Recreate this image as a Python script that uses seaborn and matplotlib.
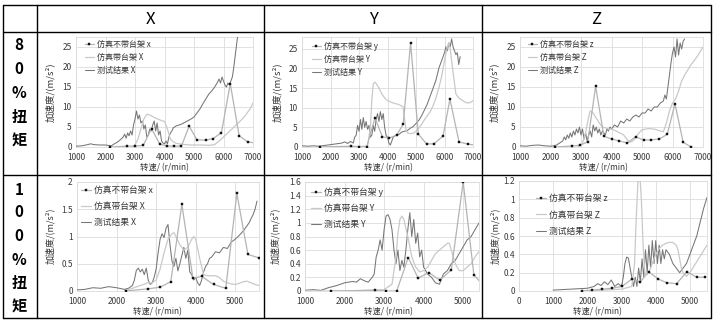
import matplotlib
matplotlib.use("Agg")
import matplotlib.pyplot as plt
from matplotlib.lines import Line2D
from matplotlib.ticker import FuncFormatter
import seaborn as sns

# ---------------- data: 80% torque ----------------
# X direction
rpm_test_x80 = [1000,1200,1400,1500,1600,1800,2000, 2200,2300,2400,2500,2600,
                2650,2700,2750,2800,2850,2900,2950,3000,
                3050,3100,3150,3200,3250,3300,3350,3400,3450,3500,3550,3600,3650,3700,3750,3800,3850,3900,3950,
                4000,4050,4100,4150,4200,4250,4300,
                4400,4500,4600,4700,4800,4900,5000,5100,5200,5300,5400,5500,5600,5700,5800,
                5850,5900,5950,6000,6050,6100,6150,6200,6250,6300,6350,6400,6450,6500]
acc_test_x80 = [0.2,0.3,0.6,0.8,0.6,0.5,0.5, 0.3,0.8,1.2,1.8,2.5,
                3.2,2.2,3.5,2.8,4.0,3.0,5.5,7.0,
                9.0,7.0,8.0,6.0,6.5,4.5,5.5,2.5,3.0,4.5,4.0,5.5,6.5,4.0,6.0,3.0,4.0,1.5,1.0,
                0.8,1.5,0.8,2.5,3.5,4.0,4.8,
                5.3,5.5,5.8,6.2,6.6,7.0,7.5,8.5,9.5,10.8,12.0,13.2,14.0,15.0,16.2,
                17.0,16.0,17.5,16.5,15.5,15.0,16.0,15.5,16.5,17.5,20.0,23.0,26.0,29.0]
rpm_ns_x80 = [2150,2715,3000,3280,3560,3840,4070,4320,4575,4835,5100,5390,5650,5930,6230,6530,6830,7100]
acc_ns_x80 = [0,0.2,0.25,0.4,4.6,0.7,0.3,0.2,0.25,5.2,1.8,1.7,2.1,3.6,15.8,2.8,1.25,1.0]
rpm_ws_x80 = [2900,3000,3100,3200,3300,3400,3500,3600,3700,3800,3900,4000,4100,4200,4300,4400,
              4500,4700,4900,5100,5300,5500,5700,5900,6100,6300,6500,6700,6900,7000]
acc_ws_x80 = [0,0.5,2.0,4.5,7.0,8.2,8.0,7.6,7.2,6.9,6.6,6.4,4.5,2.0,1.3,0.9,
              0.8,0.6,0.5,0.5,0.5,0.4,0.6,1.8,3.2,4.6,6.0,7.5,9.5,11.0]

# Y direction
rpm_test_y80 = [1000,1200,1400,1600,1800,2000,2200,2400,2500,2600,2700,2800,
                2850,2900,2950,3000,3050,3100,3150,3200,3250,3300,3350,3400,3450,3500,3550,3600,
                3650,3700,3750,3800,3850,3900,3950,4000,4050,4100,4150,4200,
                4300,4400,4500,4600,4700,4800,4900,5000,5100,5200,5300,5400,5500,5600,5700,5800,5900,6000,
                6050,6100,6150,6200,6250,6300,6350,6400,6450,6500,6550]
acc_test_y80 = [0.3,0.2,0.3,0.2,0.4,0.6,0.8,1.0,1.3,0.9,1.4,1.0,
                2.5,3.0,5.5,4.0,7.0,4.5,7.5,5.0,6.5,4.5,5.5,2.5,3.0,5.5,4.0,7.0,
                8.5,6.5,9.0,7.0,8.5,5.0,3.0,2.5,1.0,0.5,1.5,2.5,
                3.0,3.2,3.8,4.0,4.2,4.8,5.2,6.0,6.8,8.0,9.5,11.0,13.0,15.0,17.0,20.0,22.0,24.0,
                25.5,24.5,26.5,25.5,27.5,25.5,24.5,23.5,24.0,21.0,23.0]
rpm_ns_y80 = [1640,2720,3000,3270,3560,3820,4060,4320,4550,4810,5080,5370,5630,5950,6190,6510,6830,7100]
acc_ns_y80 = [0,0.2,0,0,7.4,2.6,2.3,3.0,5.8,26.5,3.3,0.8,0.8,2.8,12.2,1.3,0.7,0.5]
rpm_ws_y80 = [2000,3300,3400,3450,3500,3550,3600,3700,3800,3900,
              4000,4200,4400,4550,4600,4650,4700,4800,4900,5000,
              5100,5200,5300,5400,5500,5600,5700,5800,5900,6000,
              6100,6150,6200,6300,6400,6500,6600,6700,6800,6900,7000]
acc_ws_y80 = [0,0.2,5,12,16,16.5,16.2,15,13.5,12.5,
              11.8,11.2,10.8,10.2,7,4.5,3.6,3.4,3.5,4,
              4.8,5.8,7,8,9,10.5,12.5,15,18,22,
              25.5,26.5,25,19,13.5,12.5,12,11.5,11.2,11.3,11.8]

# Z direction
rpm_test_z80 = [1000,1200,1400,1600,1800,2000,2100,2200,2300,2400,
                2450,2500,2550,2600,2650,2700,2750,2800,2850,2900,
                2950,3000,3050,3100,3150,3200,3250,3300,3350,3400,
                3450,3500,3550,3600,3650,3700,3750,3800,3850,3900,3950,4000,
                4100,4200,4300,4400,4500,4600,4700,4800,4900,5000,5100,5200,5300,5400,5500,5600,5700,
                5750,5800,5850,5900,5950,6000,6050,6100,6150,6200,6250,6300,6350,6400]
acc_test_z80 = [0.3,0.2,0.4,0.5,0.3,0.2,0.3,0.5,1.0,1.5,
                2.5,1.8,3.0,2.2,3.5,2.5,4.0,3.0,4.5,3.5,
                5.0,3.0,4.5,2.0,3.5,1.5,3.0,4.0,2.5,5.5,
                4.0,5.0,3.5,4.5,3.0,4.0,3.5,3.0,4.5,4.0,5.0,4.5,
                5.5,5.0,6.5,6.0,7.0,6.5,7.5,8.0,7.5,8.5,8.5,9.5,9.0,10.0,10.0,11.0,11.5,
                13.0,12.0,15.0,18.0,21.0,23.5,25.0,22.5,27.0,23.0,26.0,24.5,26.5,27.0]
rpm_ns_z80 = [2150,2690,2960,3220,3480,3750,4000,4260,4520,4790,5050,5310,5570,5830,6080,6350,6610]
acc_ns_z80 = [0,0.25,0.4,1.3,15.2,2.7,2.0,1.5,1.0,2.6,1.7,1.8,2.0,3.2,10.8,1.2,0]
rpm_ws_z80 = [2900,3050,3150,3250,3300,3400,3500,3600,3700,3800,3900,4000,4100,4200,4300,4400,
              4500,4600,4700,4800,4900,5000,5200,5400,5600,5700,5800,5900,6000,6100,6200,6300,
              6400,6600,6800,7000]
acc_ws_z80 = [0,1,3.5,7.5,9,8.5,7.2,6,5,4.8,4.5,4.5,4.2,3.8,3.4,3.0,
              2.0,1.2,1.5,2.5,3.5,4.3,4.6,4.5,4.0,3.8,6,9,11,12,14,16.5,
              18,20.5,22.5,25]

# ---------------- data: 100% torque ----------------
rpm_test_x100 = [1000,1200,1400,1600,1800,2000,2200,2300,2400,
                 2450,2500,2550,2600,2650,2700,2750,2800,2850,2900,
                 2950,3000,3050,3100,3150,3200,3250,3300,3350,3400,
                 3450,3500,3550,3600,3650,3700,3750,3800,3850,3900,
                 3950,4000,4050,4100,4150,4200,4250,4300,4350,4400,
                 4500,4600,4700,4800,4900,5000,5100,5200,5300,
                 5350,5400,5450,5500,5550]
acc_test_x100 = [0.02,0.03,0.06,0.05,0.08,0.06,0.03,0.05,0.1,
                 0.2,0.38,0.42,0.35,0.4,0.3,0.42,0.2,0.12,0.15,
                 0.25,0.4,0.7,0.95,1.05,0.98,1.15,1.22,0.85,0.55,
                 0.45,0.6,0.37,0.5,0.65,0.8,0.6,0.75,0.35,0.3,
                 0.2,0.25,0.15,0.1,0.2,0.35,0.45,0.5,0.6,0.62,
                 0.72,0.7,0.8,0.78,0.9,0.95,1.02,1.1,1.2,
                 1.25,1.33,1.4,1.5,1.65]
rpm_ns_x100 = [2235,2800,3100,3370,3650,3930,4150,4450,4760,5040,5320,5590]
acc_ns_x100 = [0,0.04,0.07,0.17,1.59,0.23,0.27,0.12,0.05,1.79,0.67,0.61]
rpm_ws_x100 = [2200,2800,2900,3000,3100,3200,3300,3400,3450,3500,3600,3700,3800,3900,3950,
               4000,4100,4200,4300,4500,4600,4700,4800,4900,5000,5100,5200,5300,5400,5500,5600]
acc_ws_x100 = [0,0.15,0.15,0.2,0.4,0.7,0.95,1.05,1.07,1.0,0.85,0.75,0.8,0.95,1.0,
               0.95,0.6,0.3,0.28,0.28,0.25,0.18,0.15,0.13,0.12,0.14,0.17,0.18,0.15,0.12,0.1]

rpm_test_y100 = [1000,1200,1400,1500,1600,1800,2000,2200,2300,2400,2500,2600,2700,
                 2750,2800,2850,2900,2950,3000,3050,3100,3150,3200,
                 3250,3300,3350,3400,3450,3500,3550,3600,3650,3700,
                 3750,3800,3850,3900,3950,4000,
                 4100,4200,4300,4400,4500,4600,4700,4800,4900,5000,5100,5200,5300,5400]
acc_test_y100 = [0.01,0.02,0.01,0.03,0.05,0.08,0.12,0.14,0.13,0.18,0.15,0.13,0.2,
                 0.25,0.5,0.6,0.75,0.6,0.9,1.1,1.12,1.05,0.9,
                 0.6,0.4,0.6,0.3,0.45,0.35,0.6,0.9,1.15,0.8,
                 1.05,0.7,0.85,0.5,0.6,0.35,
                 0.25,0.2,0.12,0.1,0.25,0.3,0.4,0.45,0.55,0.65,0.75,0.8,0.9,1.0]
rpm_ns_y100 = [1660,2770,3050,3320,3610,3860,4130,4410,4700,5000,5270,5550]
acc_ns_y100 = [0,0.01,0,0,0.49,0.19,0.27,0.16,0.31,1.6,0.24,0.05]
rpm_ws_y100 = [1000,2000,2500,3000,3200,3300,3350,3400,3450,3500,3600,3700,3800,3900,4000,
               4100,4200,4300,4400,4500,4600,4650,4700,4800,4900,5000,5100,5200,5300,5400]
acc_ws_y100 = [0,0,0.01,0.02,0.1,0.5,0.85,1.05,1.1,1.05,0.8,0.5,0.35,0.28,0.3,
               0.35,0.45,0.55,0.6,0.65,0.7,0.7,0.6,0.4,0.3,0.3,0.35,0.4,0.5,0.58]

rpm_test_z100 = [1000,1500,2000,2200,2300,2400,2500,2600,2700,2800,2900,3000,
                 3050,3100,3150,3200,3250,3300,3350,3400,3450,3500,3550,3600,3650,
                 3700,3750,3800,3850,3900,3950,4000,4050,4100,4150,4200,4250,4300,
                 4400,4500,4600,4700,4800,4900,5000,5100,5200,5300,5400,5500]
acc_test_z100 = [0.01,0.02,0.03,0.05,0.08,0.06,0.1,0.07,0.12,0.05,0.08,0.05,
                 0.15,0.3,0.37,0.36,0.25,0.15,0.05,0.15,0.05,0.25,0.1,0.35,0.15,
                 0.45,0.2,0.5,0.25,0.55,0.3,0.55,0.3,0.5,0.3,0.45,0.35,0.45,
                 0.4,0.3,0.25,0.2,0.25,0.3,0.4,0.5,0.6,0.75,0.9,1.02]
rpm_ns_z100 = [1850,2140,2430,2720,3010,3300,3550,3790,4080,4320,4610,4910,5200,5440]
acc_ns_z100 = [0,0.01,0.02,0.03,0.05,0.13,0.1,0.21,0.13,0.09,0.08,0.21,0.15,0.15]
rpm_ws_z100 = [2000,3000,3300,3380,3430,3480,3530,3580,3630,3680,
               3750,3850,4000,4100,4200,4300,4400,4500,4600,4650,
               4700,4750,4800,4900,5000,5100,5200,5300,5400,5500]
acc_ws_z100 = [0,0.02,0.05,0.3,0.8,1.2,1.3,1.0,0.5,0.2,
               0.18,0.25,0.4,0.46,0.5,0.52,0.53,0.53,0.5,0.45,
               0.35,0.25,0.2,0.16,0.2,0.26,0.32,0.38,0.44,0.5]

col_titles = ["X", "Y", "Z"]
row_titles = [["8", "0", "%", "扭", "矩"], ["1", "0", "0", "%", "扭", "矩"]]
labels_x = ["仿真不带台架 x", "仿真带台架 X", "测试结果 X"]
labels_y = ["仿真不带台架 y", "仿真带台架 Y", "测试结果 Y"]
labels_z = ["仿真不带台架 z", "仿真带台架 Z", "测试结果 Z"]
ylabel_text = "加速度/(m/s²)"
xlabel_text = "转速/ (r/min)"

# ---------------- style ----------------
sns.set_theme(style="white")
plt.rcParams['font.family'] = ['Noto Sans CJK SC', 'DejaVu Sans']
plt.rcParams['axes.unicode_minus'] = False

W, H = 713, 323
fig = plt.figure(figsize=(W / 100, H / 100), dpi=100)
fig.patch.set_facecolor("white")

C_TEST = "#767676"
C_NS = "#b4b4b4"
C_WS = "#c9c9c9"
GRID = "#dcdcdc"


def fx(x):
    return x / W


def fy(y):
    return 1 - y / H


def panel(rect, xlim, ylim, xticks, yticks, ns, ws, test, labels,
          leg_pos, leg_fs, leg_sp, ylab_pos, xlab_pos, lab_fs):
    l, t, r, b = rect
    ax = fig.add_axes([fx(l), fy(b), (r - l) / W, (b - t) / H])
    sns.lineplot(x=test[0], y=test[1], ax=ax, color=C_TEST, lw=0.75,
                 label=labels[2], sort=False, estimator=None, zorder=3)
    sns.lineplot(x=ws[0], y=ws[1], ax=ax, color=C_WS, lw=0.9,
                 label=labels[1], sort=False, estimator=None, zorder=4)
    sns.lineplot(x=ns[0], y=ns[1], ax=ax, color=C_NS, lw=0.9, marker="s",
                 markersize=1.8, markerfacecolor="#111111", markeredgecolor="#111111",
                 markeredgewidth=0.3, label=labels[0], sort=False, estimator=None, zorder=5)
    ax.set_xlim(*xlim)
    ax.set_ylim(*ylim)
    ax.set_xticks(xticks)
    ax.set_yticks(yticks)
    fmt = FuncFormatter(lambda v, p: f"{v:g}")
    ax.xaxis.set_major_formatter(fmt)
    ax.yaxis.set_major_formatter(fmt)
    ax.tick_params(length=0, labelsize=6, colors="#3a3a3a")
    ax.tick_params(axis="x", pad=4)
    ax.tick_params(axis="y", pad=3)
    ax.grid(True, color=GRID, lw=0.6)
    ax.set_axisbelow(True)
    for s in ax.spines.values():
        s.set_color(GRID)
        s.set_linewidth(0.6)
    ax.set_xlabel("")
    ax.set_ylabel("")
    h, lab = ax.get_legend_handles_labels()
    order = [2, 1, 0]
    ax.legend([h[i] for i in order], [lab[i] for i in order], loc="upper left",
              bbox_to_anchor=(fx(leg_pos[0]), fy(leg_pos[1])), bbox_transform=fig.transFigure,
              frameon=False, fontsize=leg_fs, handlelength=1.1, handletextpad=0.4,
              labelspacing=leg_sp, borderpad=0, borderaxespad=0, labelcolor="#333333")
    fig.text(fx(ylab_pos[0]), fy(ylab_pos[1]), ylabel_text, rotation=90, ha="center",
             va="center", fontsize=lab_fs, color="#333333")
    fig.text(fx(xlab_pos[0]), fy(xlab_pos[1]), xlabel_text, ha="center", va="center",
             fontsize=6, color="#333333")
    return ax


top_yt = [0, 5, 10, 15, 20, 25]
top_xt = [1000, 2000, 3000, 4000, 5000, 6000, 7000]
bot_xt = [1000, 2000, 3000, 4000, 5000]

panel((76, 37, 253, 147), (1000, 7000), (0, 27.5), top_xt, top_yt,
      (rpm_ns_x80, acc_ns_x80), (rpm_ws_x80, acc_ws_x80), (rpm_test_x80, acc_test_x80),
      labels_x, (85, 40), 5.8, 0.5, (50, 92), (164, 168), 6.8)
panel((302, 37, 473, 147), (1000, 7000), (0, 28), top_xt, top_yt,
      (rpm_ns_y80, acc_ns_y80), (rpm_ws_y80, acc_ws_y80), (rpm_test_y80, acc_test_y80),
      labels_y, (312, 42), 5.8, 0.5, (277, 92), (388, 168), 6.8)
panel((520, 37, 703, 147), (1000, 7000), (0, 27.5), top_xt, top_yt,
      (rpm_ns_z80, acc_ns_z80), (rpm_ws_z80, acc_ws_z80), (rpm_test_z80, acc_test_z80),
      labels_z, (528, 40), 5.8, 0.5, (494, 92), (603, 168), 6.8)

panel((77, 182, 259, 291), (1000, 5600), (0, 2), bot_xt, [0, 0.5, 1, 1.5, 2],
      (rpm_ns_x100, acc_ns_x100), (rpm_ws_x100, acc_ws_x100), (rpm_test_x100, acc_test_x100),
      labels_x, (81, 186), 6.3, 0.8, (50, 236), (157, 312), 6.5)
panel((305, 182, 479, 291), (1000, 5400), (0, 1.6), bot_xt,
      [0, 0.2, 0.4, 0.6, 0.8, 1.0, 1.2, 1.4, 1.6],
      (rpm_ns_y100, acc_ns_y100), (rpm_ws_y100, acc_ws_y100), (rpm_test_y100, acc_test_y100),
      labels_y, (311, 187), 6.3, 0.8, (275, 236), (388, 312), 6.5)
panel((519, 181, 707, 291), (0, 5500), (0, 1.2), [0] + bot_xt,
      [0, 0.2, 0.4, 0.6, 0.8, 1.0, 1.2],
      (rpm_ns_z100, acc_ns_z100), (rpm_ws_z100, acc_ws_z100), (rpm_test_z100, acc_test_z100),
      labels_z, (536, 194), 6.3, 0.85, (495, 236), (597, 312), 6.5)

# ---------------- table frame ----------------
def hline(y, x0, x1):
    fig.add_artist(Line2D([fx(x0), fx(x1)], [fy(y), fy(y)], transform=fig.transFigure,
                          color="black", lw=1.0))


def vline(x, y0, y1):
    fig.add_artist(Line2D([fx(x), fx(x)], [fy(y0), fy(y1)], transform=fig.transFigure,
                          color="black", lw=1.0))


for y in (5, 32, 175, 318):
    hline(y, 3, 711)
for x in (3, 37, 264, 482, 711):
    vline(x, 5, 318)

for cx, t in zip((150, 373, 596), col_titles):
    fig.text(fx(cx), fy(19), t, ha="center", va="center", fontsize=12, color="black")

for ys, chars in zip(([45, 69, 93, 117, 141], [190, 212, 236, 260, 283, 307]), row_titles):
    for y, ch in zip(ys, chars):
        fig.text(fx(19), fy(y), ch, ha="center", va="center", fontsize=11,
                 fontweight="bold", color="black")

fig.savefig("out.png", dpi=100, facecolor="white")
